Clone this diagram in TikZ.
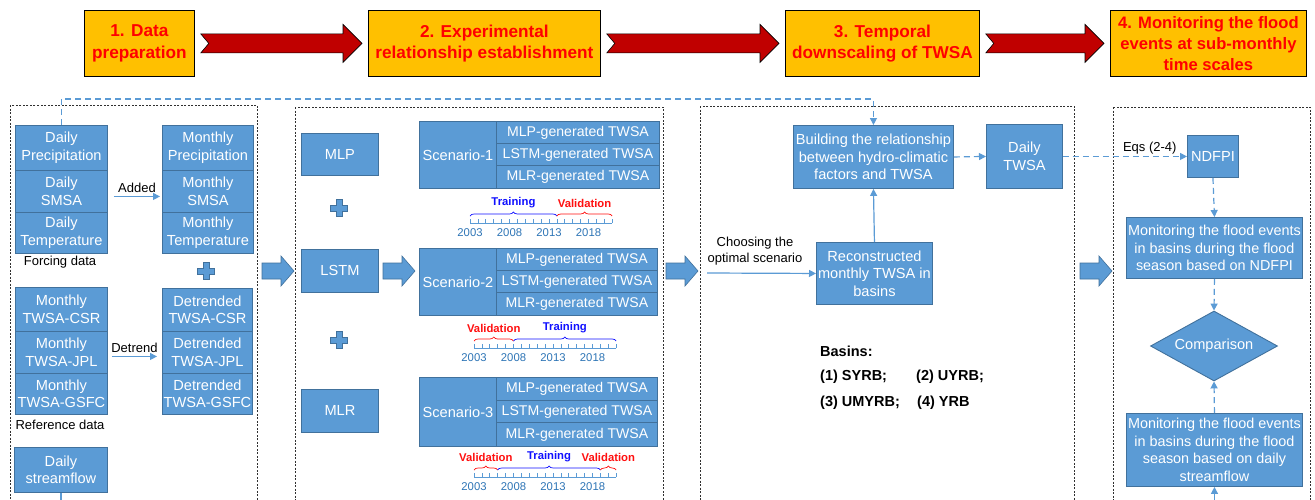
\documentclass[tikz,border=0pt]{standalone}
\usepackage{fontspec}
\setmainfont{Liberation Sans}
\usetikzlibrary{arrows.meta,shapes.geometric,decorations.pathreplacing,calc}
\definecolor{bblue}{HTML}{5B9BD5}
\definecolor{bedge}{HTML}{41719C}
\definecolor{hyel}{HTML}{FFC000}
\definecolor{hred}{HTML}{C00000}
\definecolor{yrblue}{HTML}{2E75B6}
\definecolor{trblue}{HTML}{1010FF}
\definecolor{vared}{HTML}{FF1010}
\definecolor{pgray}{HTML}{303030}
\newcommand\tline[2]{%
  \draw[draw=bblue,line width=0.9pt] (#1,#2) -- (#1+142.2,#2);
  \foreach \k in {0,...,18} \draw[draw=bblue,line width=0.7pt] (#1+\k*7.9,#2) -- (#1+\k*7.9,#2-4);
  \foreach \yr/\k in {2003/0,2008/5,2013/10,2018/15} \node[yrlab] at (#1+\k*7.9,#2+10) {\yr};
}
\newcommand\tbrace[6]{%
  \draw[decorate,decoration={brace,amplitude=4pt},draw=#5,line width=0.7pt] (#1+#3*7.9,#2-7) -- (#1+#4*7.9,#2-7) node[midway,above=8pt,inner sep=0pt,font=\bfseries\fontsize{11.3}{13}\selectfont,text=#5]{#6};
}
\newcommand\harrow[2]{%
  \filldraw[fill=hred,draw=black,line width=0.6pt] let \p1=(#1.east), \p2=(#2.west) in
   (\x1+6pt,\y1+9.5pt) -- (\x2-25pt,\y1+9.5pt) -- (\x2-25pt,\y1+19pt) -- (\x2-6pt,\y1) --
   (\x2-25pt,\y1-19pt) -- (\x2-25pt,\y1-9.5pt) -- (\x1+6pt,\y1-9.5pt) -- (\x1+14pt,\y1) -- cycle;
}
\begin{document}
\begin{tikzpicture}[x=1pt,y=-1pt,
  blk/.style={rectangle,draw=bedge,fill=bblue,line width=0.9pt,text=white,align=center,inner sep=0pt,anchor=north west,font=\fontsize{14.6}{17.5}\selectfont},
  rowbox/.style={blk,font=\fontsize{14.1}{16}\selectfont},
  hdr/.style={rectangle,draw=black,line width=0.8pt,fill=hyel,text=red,font=\bfseries\fontsize{17.2}{21.5}\selectfont,align=center,inner sep=0pt,anchor=north west,minimum height=66},
  lbl/.style={text=black,font=\fontsize{13}{15.5}\selectfont,inner sep=1pt,align=center},
  bas/.style={text=black,font=\bfseries\fontsize{14.5}{17}\selectfont,inner sep=0pt,anchor=west},
  yrlab/.style={text=yrblue,font=\fontsize{11.3}{13}\selectfont,inner sep=0pt},
  conn/.style={draw=bblue,line width=1.2pt,-{Triangle[length=7pt,width=7pt]}},
  dconn/.style={conn,dash pattern=on 6pt off 4pt},
  panel/.style={draw=pgray,line width=0.9pt,dash pattern=on 2pt off 1.5pt},
  barrow/.pic={\filldraw[fill=bblue,draw=bedge,line width=0.6pt] (0,-8) -- (19,-8) -- (19,-15) -- (32,0) -- (19,15) -- (19,8) -- (0,8) -- cycle;},
  plus/.pic={\filldraw[fill=bblue,draw=bedge,line width=0.6pt] (-3,-8.5) -- (3,-8.5) -- (3,-3) -- (8.5,-3) -- (8.5,3) -- (3,3) -- (3,8.5) -- (-3,8.5) -- (-3,3) -- (-8.5,3) -- (-8.5,-3) -- (-3,-3) -- cycle;}
]
\useasboundingbox (0,0) rectangle (1315,499);
\clip (0,0) rectangle (1315,499);
\fill[white] (0,0) rectangle (1315,499);

% header
\node[hdr,minimum width=110] (h1) at (84,10) {1. Data\\preparation};
\node[hdr,minimum width=232] (h2) at (368,10) {2. Experimental\\relationship establishment};
\node[hdr,minimum width=194] (h3) at (785,10) {3. Temporal\\downscaling of TWSA};
\node[hdr,minimum width=196,font=\bfseries\fontsize{16.6}{21}\selectfont] (h4) at (1110,10) {4. Monitoring the flood\\events at sub-monthly\\time scales};
\harrow{h1}{h2}
\harrow{h2}{h3}
\harrow{h3}{h4}

% panels
\draw[panel] (10,105) rectangle (257,520);
\draw[panel] (295,107) rectangle (663,520);
\draw[panel] (700,106) rectangle (1074,520);
\draw[panel] (1113,107) rectangle (1310,520);

% panel 1
\node[blk,minimum width=92,minimum height=45] (dp) at (15,125) {Daily\\Precipitation};
\node[blk,minimum width=92,minimum height=42] (ds) at (15,170) {Daily\\SMSA};
\node[blk,minimum width=92,minimum height=41] (dt) at (15,212) {Daily\\Temperature};
\node[lbl] (fd) at (60,262) {Forcing data};
\node[blk,minimum width=91,minimum height=45] (mp) at (162,125) {Monthly\\Precipitation};
\node[blk,minimum width=91,minimum height=42] (ms) at (162,170) {Monthly\\SMSA};
\node[blk,minimum width=91,minimum height=41] (mt) at (162,212) {Monthly\\Temperature};
\draw[conn] ([xshift=6pt,yshift=-5pt]ds.east) -- ([xshift=-2pt,yshift=-5pt]ms.west) node[midway,above=2pt,lbl]{Added};
\pic at (206,271) {plus};
\node[blk,minimum width=92,minimum height=44] (tc) at (15,287) {Monthly\\TWSA-CSR};
\node[blk,minimum width=92,minimum height=42] (tj) at (15,331) {Monthly\\TWSA-JPL};
\node[blk,minimum width=92,minimum height=41] (tg) at (15,373) {Monthly\\TWSA-GSFC};
\node[lbl] (rd) at (60,425) {Reference data};
\node[blk,minimum width=90,minimum height=43] (dc) at (162,288) {Detrended\\TWSA-CSR};
\node[blk,minimum width=90,minimum height=42] (dj) at (162,331) {Detrended\\TWSA-JPL};
\node[blk,minimum width=90,minimum height=41] (dg) at (162,373) {Detrended\\TWSA-GSFC};
\draw[conn] ([xshift=4pt,yshift=-4pt]tj.east) -- ([xshift=-5pt,yshift=-4pt]dj.west) node[midway,above=2pt,lbl]{Detrend};
\node[blk,minimum width=93,minimum height=45] (sf) at (14,447) {Daily\\streamflow};
\coordinate (sfend) at ($(sf.south)+(0,20)$);
\draw[draw=bblue,line width=1.2pt] (sf.south) -- (sfend);

\pic at (262,271) {barrow};

% panel 2
\node[blk,minimum width=77,minimum height=42] (mlp) at (301,133) {MLP};
\node[blk,minimum width=77,minimum height=43] (lstm) at (301,249) {LSTM};
\node[blk,minimum width=77,minimum height=43] (mlr) at (301,389) {MLR};
\pic at (339,208) {plus};
\pic at (339,340) {plus};
\pic at (383,271) {barrow};

\node[blk,minimum width=77,minimum height=67] (s1) at (419,121) {Scenario-1};
\node[rowbox,minimum width=163,minimum height=22] (s1a) at (496,121) {MLP-generated TWSA};
\node[rowbox,minimum width=163,minimum height=22] (s1b) at (496,143) {LSTM-generated TWSA};
\node[rowbox,minimum width=163,minimum height=23] (s1c) at (496,165) {MLR-generated TWSA};
\tline{470}{223}
\tbrace{470}{223}{0}{11}{trblue}{Training}
\tbrace{470}{223}{11}{18}{vared}{Validation}

\node[blk,minimum width=77,minimum height=67] (s2) at (419,248) {Scenario-2};
\node[rowbox,minimum width=161,minimum height=22] (s2a) at (496,248) {MLP-generated TWSA};
\node[rowbox,minimum width=161,minimum height=22] (s2b) at (496,270) {LSTM-generated TWSA};
\node[rowbox,minimum width=161,minimum height=23] (s2c) at (496,292) {MLR-generated TWSA};
\tline{474}{348}
\tbrace{474}{348}{0}{5}{vared}{Validation}
\tbrace{474}{348}{5}{18}{trblue}{Training}

\node[blk,minimum width=77,minimum height=69] (s3) at (419,377) {Scenario-3};
\node[rowbox,minimum width=161,minimum height=23] (s3a) at (496,377) {MLP-generated TWSA};
\node[rowbox,minimum width=161,minimum height=22] (s3b) at (496,400) {LSTM-generated TWSA};
\node[rowbox,minimum width=161,minimum height=24] (s3c) at (496,422) {MLR-generated TWSA};
\tline{474}{477}
\tbrace{474}{477}{0}{3}{vared}{Validation}
\tbrace{474}{477}{3}{16}{trblue}{Training}
\tbrace{474}{477}{16}{18}{vared}{Validation}

\pic at (666,271) {barrow};

% panel 3
\node[blk,minimum width=160,minimum height=63] (build) at (793,125) {Building the relationship\\between hydro-climatic\\factors and TWSA};
\node[blk,minimum width=76,minimum height=64] (daily) at (986,124) {Daily\\TWSA};
\node[blk,minimum width=116,minimum height=62] (recon) at (816,242) {Reconstructed\\monthly TWSA in\\basins};
\node[lbl] (choose) at (755,251) {Choosing the\\optimal scenario};
\coordinate (chs) at (707,273);
\draw[conn] (chs) -- (recon.west);
\draw[conn] (recon.north) -- (build.south);
\draw[dconn] (build.east) -- (daily.west);
\coordinate (topy) at (0,99);
\draw[dconn] (dp.north) -- (dp.north |- topy) -| (build.north);
\node[bas] at (820,351) {Basins:};
\node[bas] at (820,377) {(1) SYRB;};
\node[bas] at (916,377) {(2) UYRB;};
\node[bas] at (820,403) {(3) UMYRB;};
\node[bas] at (917,403) {(4) YRB};

\pic at (1080,271) {barrow};

% panel 4
\node[blk,minimum width=51,minimum height=42] (ndfpi) at (1187,135) {NDFPI};
\draw[dconn] (daily.east) -- (ndfpi.west) node[pos=0.7,above=1pt,lbl]{Eqs (2-4)};
\node[blk,minimum width=176,minimum height=61,font=\fontsize{14.4}{17.5}\selectfont] (mon1) at (1126,217) {Monitoring the flood events\\in basins during the flood\\season based on NDFPI};
\node[diamond,draw=bedge,fill=bblue,line width=0.9pt,text=white,inner sep=0pt,minimum width=127,minimum height=70,aspect=1.8,font=\fontsize{14.6}{17.5}\selectfont] (cmp) at (1214,346) {Comparison};
\node[blk,minimum width=176,minimum height=73,font=\fontsize{14.4}{17.5}\selectfont] (mon2) at (1126,413) {Monitoring the flood events\\in basins during the flood\\season based on daily\\streamflow};
\draw[dconn] (ndfpi.south) -- (mon1.north);
\draw[dconn] (mon1.south) -- (cmp.north);
\draw[dconn] (mon2.north) -- (cmp.south);
\coordinate (m2end) at ($(mon2.south)+(0,20)$);
\draw[conn] (m2end) -- (mon2.south);
\end{tikzpicture}
\end{document}
